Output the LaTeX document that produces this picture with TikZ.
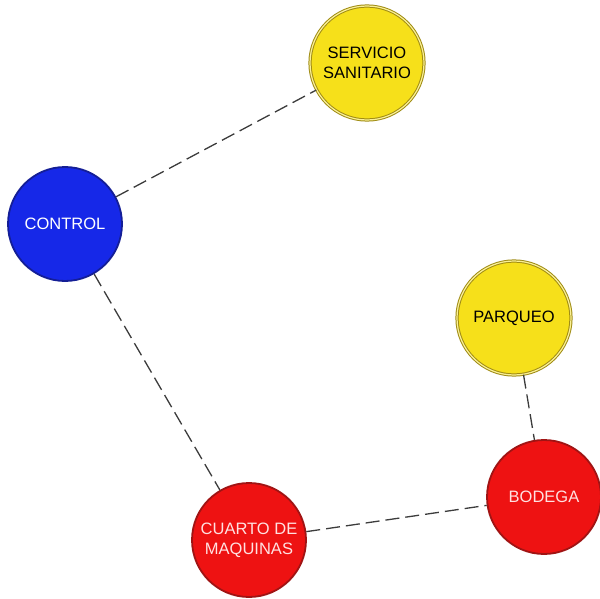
\documentclass[tikz,border=0pt]{standalone}
\usepackage{fontspec}
\setmainfont{Liberation Sans}
\definecolor{ctrlblue}{RGB}{22,40,232}
\definecolor{ctrledge}{RGB}{20,30,150}
\definecolor{svcyellow}{RGB}{246,224,26}
\definecolor{svcedge}{RGB}{160,140,20}
\definecolor{svcgap}{RGB}{250,240,150}
\definecolor{roomred}{RGB}{238,18,18}
\definecolor{roomedge}{RGB}{160,20,20}
\definecolor{linkgray}{RGB}{60,60,60}
\tikzset{
  zone/.style={circle, minimum size=114pt, inner sep=0pt, align=center,
    font=\fontsize{16.5}{20}\selectfont},
  ctrlzone/.style={zone, fill=ctrlblue, draw=ctrledge, line width=1.8pt, text=white},
  svczone/.style={zone, fill=svcyellow, draw=svcedge, double=svcgap,
    double distance=1.2pt, line width=1pt, text=black},
  roomzone/.style={zone, fill=roomred, draw=roomedge, line width=1.8pt,
    text={rgb,255:red,255;green,225;blue,225}},
  link/.style={draw=linkgray, line width=1.3pt, dash pattern=on 14pt off 6pt}
}
\begin{document}
\begin{tikzpicture}[x=1pt, y=-1pt]
\useasboundingbox (0,0) rectangle (600,599);
% rooms
\node[svczone]  (servicio) at (367,63)  {SERVICIO\\SANITARIO};
\node[ctrlzone] (control)  at (65,224)  {CONTROL};
\node[svczone]  (parqueo)  at (514,318) {PARQUEO};
\node[roomzone] (cuarto)   at (249,540) {CUARTO DE\\MAQUINAS};
\node[roomzone] (bodega)   at (544,497) {BODEGA};
% relations between rooms
\draw[link] (control) -- (servicio);
\draw[link] (control) -- (cuarto);
\draw[link] (cuarto) -- (bodega);
\draw[link] (parqueo) -- (bodega);
\end{tikzpicture}
\end{document}
